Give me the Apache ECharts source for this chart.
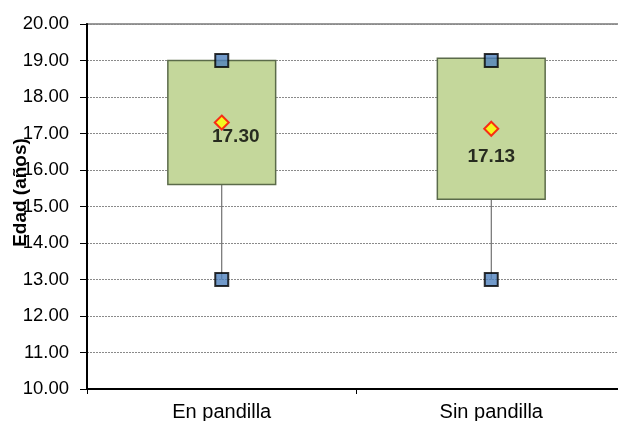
<!DOCTYPE html>
<html>
<head>
<meta charset="utf-8">
<script src="https://cdn.jsdelivr.net/npm/echarts@6/dist/echarts.min.js"></script>
<style>
html,body{margin:0;padding:0;background:#fff;}
#chart{width:618px;height:421px;}
</style>
</head>
<body>
<div id="chart"></div>
<script>
// ---- data ----
const categories = ['En pandilla', 'Sin pandilla'];
const minValues = [13, 13];
const q1Values = [15.6, 15.2];
const q3Values = [19.0, 19.06];
const maxValues = [19, 19];
const meanValues = [17.30, 17.13];
const yMin = 10, yMax = 20, yStep = 1;
const yAxisTitle = 'Edad (años)';

// ---- chart ----
const chart = echarts.init(document.getElementById('chart'), null, {renderer: 'canvas'});
const FONT = '"Liberation Sans", Arial, sans-serif';

const boxData = categories.map((c, i) => [i, minValues[i], q1Values[i], q3Values[i], maxValues[i]]);
const extremeData = [];
categories.forEach((c, i) => {
  extremeData.push([i, minValues[i]]);
  extremeData.push([i, maxValues[i]]);
});
const meanLabelOffsets = [[14, 14.5], [0, 28]];
const meanData = categories.map((c, i) => ({
  value: [i, meanValues[i]],
  label: {offset: meanLabelOffsets[i]}
}));

const option = {
  animation: false,
  backgroundColor: '#fff',
  grid: {
    left: 87, right: -8, top: 24, bottom: 32,
    containLabel: false,
    outerBoundsMode: 'none',
    show: true, borderColor: '#9a9a9a', borderWidth: 2, backgroundColor: 'transparent'
  },
  xAxis: {
    type: 'category',
    data: categories,
    boundaryGap: true,
    axisLine: {show: true, lineStyle: {color: '#000', width: 2}},
    axisTick: {show: true, length: 5, alignWithLabel: false, lineStyle: {color: '#000', width: 1}},
    axisLabel: {color: '#000', fontFamily: FONT, fontSize: 20, margin: 13},
    splitLine: {show: false}
  },
  yAxis: {
    type: 'value',
    min: yMin, max: yMax, interval: yStep,
    name: yAxisTitle,
    nameLocation: 'middle',
    nameRotate: 90,
    nameGap: 57,
    nameMoveOverlap: false,
    nameTextStyle: {color: '#000', fontFamily: FONT, fontSize: 19, fontWeight: 'bold', padding: [0, 0, 0, 28]},
    axisLine: {show: true, lineStyle: {color: '#000', width: 2}},
    axisTick: {show: true, inside: false, length: 7, lineStyle: {color: '#000', width: 1}},
    axisLabel: {color: '#000', fontFamily: FONT, fontSize: 18.5, margin: 18, formatter: v => v.toFixed(2)},
    splitLine: {show: true, lineStyle: {color: '#8a8a8a', width: 1, type: [2, 1]}}
  },
  series: [
    {
      type: 'custom',
      z: 2,
      data: boxData,
      renderItem: function (params, api) {
        const x = api.value(0);
        const vMin = api.value(1), vQ1 = api.value(2), vQ3 = api.value(3), vMax = api.value(4);
        const pQ1 = api.coord([x, vQ1]);
        const pQ3 = api.coord([x, vQ3]);
        const pMin = api.coord([x, vMin]);
        const pMax = api.coord([x, vMax]);
        const w = api.size([1, 0])[0] * 0.4;
        const children = [];
        children.push({
          type: 'line',
          shape: {x1: pQ1[0], y1: pQ1[1], x2: pMin[0], y2: pMin[1]},
          style: {stroke: '#555', lineWidth: 1}
        });
        if (vMax > vQ3) {
          children.push({
            type: 'line',
            shape: {x1: pQ3[0], y1: pQ3[1], x2: pMax[0], y2: pMax[1]},
            style: {stroke: '#555', lineWidth: 1}
          });
        }
        children.push({
          type: 'rect',
          shape: {x: pQ3[0] - w / 2, y: pQ3[1], width: w, height: pQ1[1] - pQ3[1]},
          style: {fill: '#C4D79B', stroke: '#5B6B4A', lineWidth: 1.5}
        });
        return {type: 'group', children: children};
      }
    },
    {
      type: 'scatter',
      z: 3,
      data: extremeData,
      symbol: 'rect',
      symbolSize: 13,
      itemStyle: {color: '#4F81BD', borderColor: '#000', borderWidth: 2}
    },
    {
      type: 'scatter',
      z: 4,
      data: meanData,
      symbol: 'diamond',
      symbolSize: [14, 14],
      itemStyle: {color: '#FFFF00', borderColor: '#FF0000', borderWidth: 2},
      label: {
        show: true,
        position: 'inside',
        color: '#000',
        fontFamily: FONT,
        fontSize: 19,
        fontWeight: 'bold',
        formatter: p => p.value[1].toFixed(2)
      }
    }
  ]
};
chart.setOption(option);
</script>
</body>
</html>
